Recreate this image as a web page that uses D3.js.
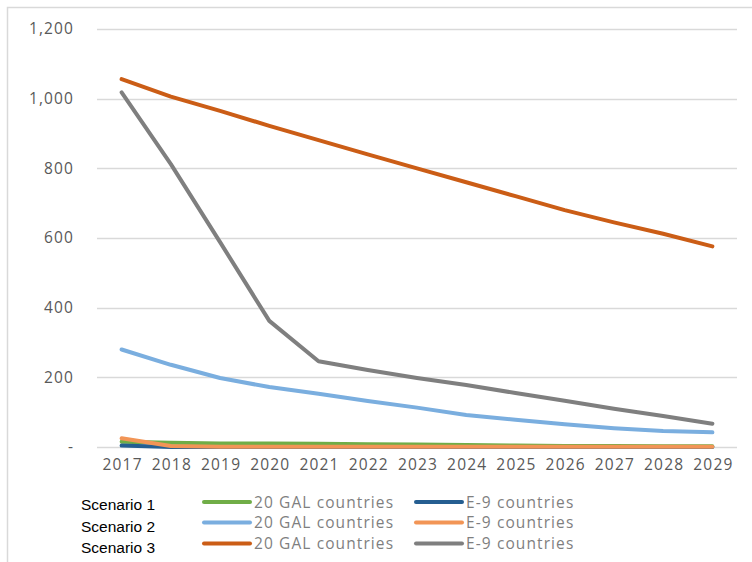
<!DOCTYPE html>
<html>
<head>
<meta charset="utf-8">
<script src="https://cdn.jsdelivr.net/npm/d3@7"></script>
<style>
  html, body { margin: 0; padding: 0; background: #fff; }
  svg { display: block; }
</style>
</head>
<body>
<svg id="chart" width="752" height="562"></svg>
<script>
// Years on the category axis
const years = ["2017","2018","2019","2020","2021","2022","2023","2024","2025","2026","2027","2028","2029"];

// Scenario 1
const s1Gal = [15, 12, 10, 10, 9, 8, 7, 6, 4, 3, 3, 2, 2];
const s1E9  = [4, 0, 0, 0, 0, 0, 0, 0, 0, 0, 0, 0, 0];
// Scenario 2
const s2Gal = [280, 236, 198, 172, 153, 132, 113, 92, 78, 65, 54, 46, 42];
const s2E9  = [25, 3, 1, 1, 1, 1, 1, 1, 1, 1, 1, 1, 1];
// Scenario 3
const s3Gal = [1056, 1006, 965, 922, 881, 840, 800, 760, 720, 680, 645, 612, 576];
const s3E9  = [1018, 812, 588, 362, 246, 221, 198, 178, 155, 133, 110, 89, 67];

const yTicks = [0, 200, 400, 600, 800, 1000, 1200];
const scenarioLabels = ["Scenario 1", "Scenario 2", "Scenario 3"];
const groupLabels = ["20 GAL countries", "E-9 countries"];

// Drawing order: later series sit on top
const series = [
  { name: "Scenario 3 – 20 GAL", values: s3Gal, color: "#CB5D16" },
  { name: "Scenario 3 – E-9",    values: s3E9,  color: "#7F7F7F" },
  { name: "Scenario 2 – 20 GAL", values: s2Gal, color: "#7AAEDF" },
  { name: "Scenario 1 – 20 GAL", values: s1Gal, color: "#70AD47" },
  { name: "Scenario 1 – E-9",    values: s1E9,  color: "#255E91" },
  { name: "Scenario 2 – E-9",    values: s2E9,  color: "#F29556" }
];
const legendColors = [["#70AD47", "#255E91"], ["#7AAEDF", "#F29556"], ["#CB5D16", "#7F7F7F"]];

const labelFont = "'Open Sans', 'Noto Sans', sans-serif";

const svg = d3.select("#chart");

// Outer chart frame
svg.append("rect")
  .attr("x", 7.5).attr("y", 7.5)
  .attr("width", 760).attr("height", 570)
  .attr("fill", "none").attr("stroke", "#D9D9D9").attr("stroke-width", 1.5);

const plot = { left: 97, right: 737, top: 29, bottom: 447 };

const x = d3.scaleBand().domain(years).range([plot.left, plot.right]);
const y = d3.scaleLinear().domain([0, 1200]).range([plot.bottom, plot.top]);
const cx = d => x(d) + x.bandwidth() / 2;

// Gridlines
svg.append("g")
  .selectAll("line")
  .data(yTicks)
  .join("line")
  .attr("x1", plot.left).attr("x2", plot.right)
  .attr("y1", d => Math.round(y(d)) + 0.5).attr("y2", d => Math.round(y(d)) + 0.5)
  .attr("stroke", "#D9D9D9").attr("stroke-width", 1.5);

// Y axis labels
const fmt = d3.format(",");
const yAxis = d3.axisLeft(y).tickValues(yTicks).tickSize(0).tickPadding(0)
  .tickFormat(d => d === 0 ? "-" : fmt(d));
const gy = svg.append("g").attr("transform", "translate(74,0)").call(yAxis);
gy.select(".domain").remove();
gy.selectAll("text")
  .attr("fill", "#595959")
  .style("font-family", labelFont)
  .style("font-size", "15.5px")
  .style("letter-spacing", "1.1px");

// X axis labels
const xAxis = d3.axisBottom(x).tickSize(0).tickPadding(0);
const gx = svg.append("g").attr("transform", `translate(1,${plot.bottom + 12})`).call(xAxis);
gx.select(".domain").remove();
gx.selectAll("text")
  .attr("fill", "#595959")
  .style("font-family", labelFont)
  .style("font-size", "15.5px")
  .style("letter-spacing", "1.2px");

// Series lines
const line = d3.line()
  .x((d, i) => cx(years[i]))
  .y(d => y(d));

svg.append("g")
  .selectAll("path")
  .data(series)
  .join("path")
  .attr("d", d => line(d.values))
  .attr("fill", "none")
  .attr("stroke", d => d.color)
  .attr("stroke-width", 4)
  .attr("stroke-linecap", "round")
  .attr("stroke-linejoin", "round");

// Legend
const legend = svg.append("g");
const rowY = [502, 522.5, 543.5];
const scenarioBaselines = [509.5, 531.5, 553];
scenarioLabels.forEach((lab, r) => {
  const ly = rowY[r];
  legend.append("text")
    .attr("x", 81).attr("y", scenarioBaselines[r])
    .attr("fill", "#000")
    .style("font-family", "'Liberation Sans', Arial, sans-serif")
    .style("font-size", "15.5px")
    .text(lab);
  groupLabels.forEach((g, c) => {
    const x0 = c === 0 ? 204 : 416;
    legend.append("line")
      .attr("x1", x0).attr("x2", x0 + 46)
      .attr("y1", ly).attr("y2", ly)
      .attr("stroke", legendColors[r][c])
      .attr("stroke-width", 4)
      .attr("stroke-linecap", "round");
    legend.append("text")
      .attr("x", x0 + 50).attr("y", ly + 5.5)
      .attr("fill", "#7F7F7F")
      .style("font-family", labelFont)
      .style("font-size", "15.5px")
      .style("letter-spacing", "1.1px")
      .text(g);
  });
});
</script>
</body>
</html>
